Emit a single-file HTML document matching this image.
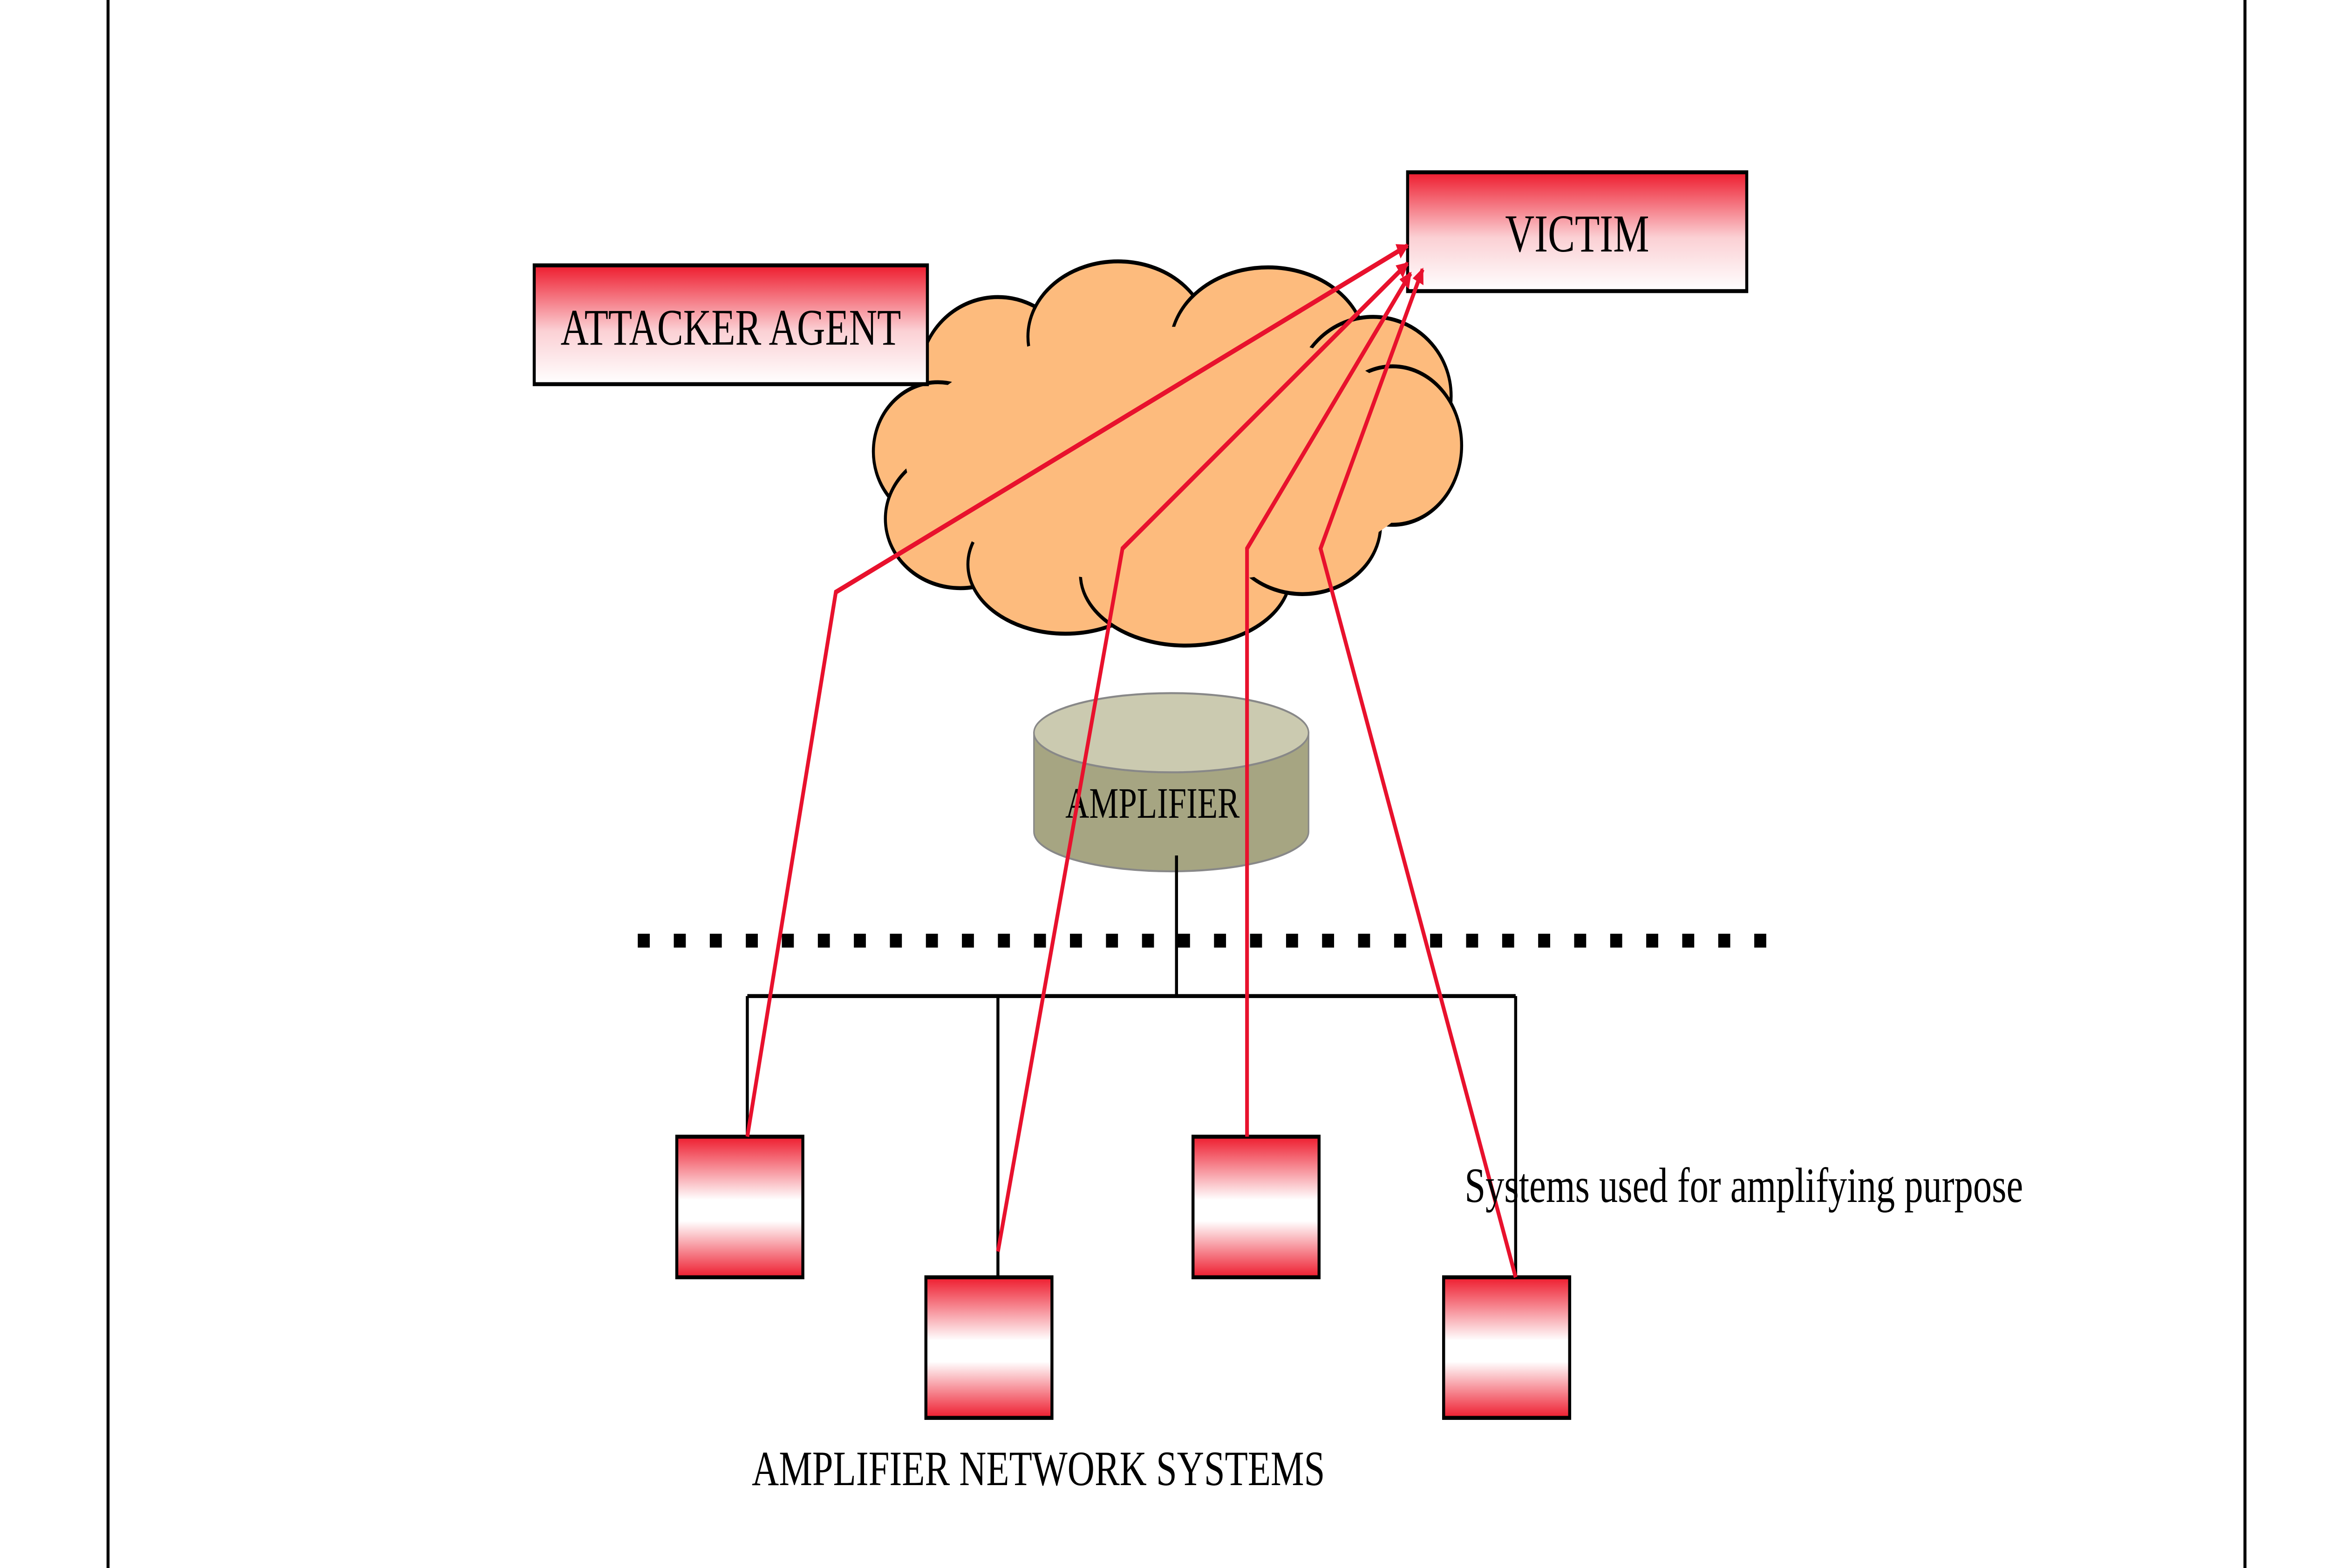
<!DOCTYPE html>
<html><head><meta charset="utf-8"><style>html,body{margin:0;padding:0;background:#fff;width:100%;height:100%;overflow:hidden}svg{display:block;position:fixed;left:0;top:0;width:100vw;height:100vh}</style></head>
<body>
<svg viewBox="0 0 1552 791.8" preserveAspectRatio="none" xmlns="http://www.w3.org/2000/svg">
<defs>
<linearGradient id="g1" x1="0" y1="0" x2="0" y2="1"><stop offset="0" stop-color="#ee1c2e"/><stop offset="0.55" stop-color="#fbd0d4"/><stop offset="1" stop-color="#ffffff"/></linearGradient>
<linearGradient id="g2" x1="0" y1="0" x2="0" y2="1"><stop offset="0" stop-color="#ee1c2e"/><stop offset="0.45" stop-color="#ffffff"/><stop offset="0.6" stop-color="#ffffff"/><stop offset="1" stop-color="#ee1c2e"/></linearGradient>
<marker id="ar" markerWidth="8" markerHeight="8" refX="7" refY="4" orient="auto" markerUnits="userSpaceOnUse"><path d="M0,0 L8,4 L0,8 z" fill="#e8112d"/></marker>
</defs>
<rect width="1552" height="792" fill="#fff"/>
<line x1="72" y1="0" x2="72" y2="792" stroke="#000" stroke-width="2"/>
<line x1="1496" y1="0" x2="1496" y2="792" stroke="#000" stroke-width="2"/>

<g fill="#fdbb7d" stroke="#000" stroke-width="2">
<ellipse cx="665" cy="190" rx="52" ry="40"/>
<ellipse cx="745" cy="170" rx="60" ry="38"/>
<ellipse cx="845" cy="175" rx="65" ry="40"/>
<ellipse cx="915" cy="200" rx="52" ry="40"/>
<ellipse cx="928" cy="225" rx="46" ry="40"/>
<ellipse cx="625" cy="228" rx="43" ry="35"/>
<ellipse cx="640" cy="262" rx="50" ry="35"/>
<ellipse cx="710" cy="285" rx="65" ry="35"/>
<ellipse cx="790" cy="290" rx="70" ry="36"/>
<ellipse cx="868" cy="265" rx="52" ry="35"/>
</g>
<ellipse cx="778" cy="230" rx="175" ry="65" fill="#fdbb7d"/>

<rect x="938" y="87" width="226" height="60" fill="url(#g1)" stroke="#000" stroke-width="2"/>
<text x="1051" y="127" font-family="Liberation Serif, serif" font-size="27" text-anchor="middle">VICTIM</text>
<rect x="356" y="134" width="262" height="60" fill="url(#g1)" stroke="#000" stroke-width="2"/>
<text x="487" y="174" font-family="Liberation Serif, serif" font-size="26" text-anchor="middle">ATTACKER AGENT</text>

<path d="M689,370 L689,420 A91.5,20 0 0 0 872,420 L872,370 Z" fill="#a6a582" stroke="#888"/>
<ellipse cx="780.5" cy="370" rx="91.5" ry="20" fill="#cbcab0" stroke="#888"/>
<text x="768" y="413" font-family="Liberation Serif, serif" font-size="22" text-anchor="middle">AMPLIFIER</text>

<line x1="425" y1="475" x2="1192" y2="475" stroke="#000" stroke-width="7" stroke-dasharray="8,16"/>

<g stroke="#000" stroke-width="2" fill="none">
<line x1="784" y1="432" x2="784" y2="503"/>
<line x1="498" y1="503" x2="1010" y2="503"/>
<line x1="498" y1="503" x2="498" y2="574"/>
<line x1="665" y1="503" x2="665" y2="645"/>
<line x1="831" y1="503" x2="831" y2="574"/>
<line x1="1010" y1="503" x2="1010" y2="645"/>
</g>

<g stroke="#000" stroke-width="2" fill="url(#g2)">
<rect x="451" y="574" width="84" height="71"/>
<rect x="617" y="645" width="84" height="71"/>
<rect x="795" y="574" width="84" height="71"/>
<rect x="962" y="645" width="84" height="71"/>
</g>

<g stroke="#e8112d" stroke-width="2.5" fill="none" marker-end="url(#ar)">
<polyline points="498,574 557,299 938,124"/>
<polyline points="665,632 748,277 938,133"/>
<polyline points="831,574 831,277 940,138"/>
<polyline points="1010,645 880,277 948,136"/>
</g>

<text x="976" y="607" font-family="Liberation Serif, serif" font-size="25">Systems used for amplifying purpose</text>
<text x="501" y="750" font-family="Liberation Serif, serif" font-size="25">AMPLIFIER NETWORK SYSTEMS</text>
</svg>
</body></html>
